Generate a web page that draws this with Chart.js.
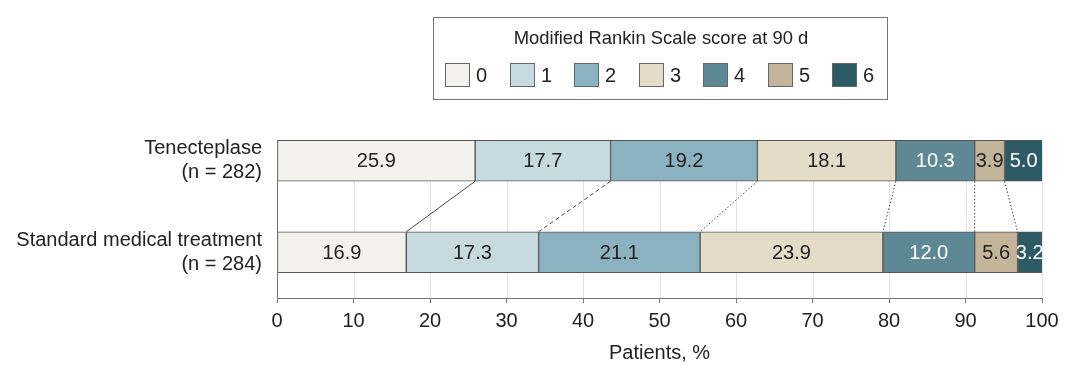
<!DOCTYPE html>
<html>
<head>
<meta charset="utf-8">
<script src="https://cdn.jsdelivr.net/npm/chart.js@4.4.1/dist/chart.umd.min.js"></script>
<style>
  html, body { margin: 0; padding: 0; background: #ffffff; }
  #wrap { width: 1080px; height: 376px; position: relative; }
</style>
</head>
<body>
<div id="wrap"><canvas id="c" width="1080" height="376"></canvas></div>
<script>
// ---- Data ----
const groupNames = ['Tenecteplase', 'Standard medical treatment'];
const groupNs = ['(n = 282)', '(n = 284)'];
const scores = ['0', '1', '2', '3', '4', '5', '6'];
const tenecteplase = [25.9, 17.7, 19.2, 18.1, 10.3, 3.9, 5.0];
const standardCare = [16.9, 17.3, 21.1, 23.9, 12.0, 5.6, 3.2];
const xTickValues = [0, 10, 20, 30, 40, 50, 60, 70, 80, 90, 100];
const legendTitle = 'Modified Rankin Scale score at 90 d';
const xTitle = 'Patients, %';

// ---- Styles ----
const fillColors = ['#f3f2ec', '#c7dae0', '#8ab2c0', '#e5dcc8', '#5f8895', '#c3b59a', '#2c5b66'];
const labelColors = ['#222222', '#222222', '#222222', '#222222', '#ffffff', '#222222', '#ffffff'];
const connectorDash = [[], [4, 3], [1.5, 2], [1.5, 2], [1.5, 2], [1.5, 2]];
const FONT = '"Liberation Sans", Arial, sans-serif';
const TEXT = '#222222';

const labels = groupNames.map((n, i) => [n, groupNs[i]]);
const datasets = scores.map((s, i) => ({
  label: s,
  data: [tenecteplase[i], standardCare[i]],
  backgroundColor: fillColors[i],
  borderColor: '#555555',
  borderWidth: 1,
  borderSkipped: false,
  barThickness: 41
}));

function barTopY(chart) {
  const el = chart.getDatasetMeta(0).data[0];
  return el.y - el.height / 2;
}

const gridPlugin = {
  id: 'customGrid',
  beforeDatasetsDraw(chart) {
    const { ctx, chartArea, scales } = chart;
    const top = barTopY(chart);
    ctx.save();
    ctx.strokeStyle = '#e2e2e2';
    ctx.lineWidth = 1;
    scales.x.ticks.forEach(t => {
      const x = Math.round(scales.x.getPixelForValue(t.value)) + 0.5;
      ctx.beginPath();
      ctx.moveTo(x, top);
      ctx.lineTo(x, chartArea.bottom);
      ctx.stroke();
    });
    ctx.restore();
  }
};

const overlayPlugin = {
  id: 'overlay',
  afterDatasetsDraw(chart) {
    const { ctx, chartArea } = chart;
    // connectors
    ctx.save();
    ctx.strokeStyle = '#444444';
    ctx.lineWidth = 1;
    for (let k = 0; k < scores.length - 1; k++) {
      const meta = chart.getDatasetMeta(k);
      const a = meta.data[0], b = meta.data[1];
      ctx.setLineDash(connectorDash[k]);
      ctx.beginPath();
      ctx.moveTo(a.x, a.y + a.height / 2);
      ctx.lineTo(b.x, b.y - b.height / 2);
      ctx.stroke();
    }
    ctx.restore();
    // value labels
    ctx.save();
    ctx.font = '20px ' + FONT;
    ctx.textAlign = 'center';
    ctx.textBaseline = 'middle';
    chart.data.datasets.forEach((ds, i) => {
      const meta = chart.getDatasetMeta(i);
      meta.data.forEach((el, j) => {
        ctx.fillStyle = labelColors[i];
        ctx.fillText(ds.data[j].toFixed(1), (el.x + el.base) / 2, el.y + 1);
      });
    });
    ctx.restore();
    // y axis line
    const top = barTopY(chart);
    ctx.save();
    ctx.strokeStyle = '#777777';
    ctx.lineWidth = 1;
    const x = Math.round(chartArea.left) + 0.5;
    ctx.beginPath();
    ctx.moveTo(x, top);
    ctx.lineTo(x, chartArea.bottom);
    ctx.stroke();
    ctx.restore();
  },
  afterDraw(chart) {
    const { ctx } = chart;
    // legend box
    ctx.save();
    ctx.strokeStyle = '#777777';
    ctx.lineWidth = 1;
    ctx.strokeRect(433.5, 17.5, 454, 82);
    ctx.fillStyle = TEXT;
    ctx.font = '18.4px ' + FONT;
    ctx.textAlign = 'center';
    ctx.textBaseline = 'middle';
    ctx.fillText(legendTitle, 661, 39);
    ctx.font = '20px ' + FONT;
    ctx.textAlign = 'left';
    scores.forEach((s, i) => {
      const sx = 445 + i * 64.5;
      ctx.fillStyle = fillColors[i];
      ctx.fillRect(Math.round(sx) + 0.5, 63.5, 24, 23);
      ctx.strokeStyle = '#666666';
      ctx.strokeRect(Math.round(sx) + 0.5, 63.5, 24, 23);
      ctx.fillStyle = TEXT;
      ctx.fillText(s, Math.round(sx) + 31, 76);
    });
    ctx.restore();
  }
};

new Chart(document.getElementById('c'), {
  type: 'bar',
  data: { labels, datasets },
  options: {
    indexAxis: 'y',
    responsive: false,
    animation: false,
    devicePixelRatio: 1,
    layout: { padding: { top: 115, right: 38, bottom: 0, left: 0 } },
    plugins: { legend: { display: false }, tooltip: { enabled: false } },
    scales: {
      x: {
        stacked: true,
        min: 0,
        max: 100,
        afterBuildTicks(scale) { scale.ticks = xTickValues.map(v => ({ value: v })); },
        afterFit(scale) { scale.height = 78; },
        grid: { drawOnChartArea: false, drawTicks: true, tickLength: 5, tickColor: '#777777' },
        border: { display: true, color: '#777777', width: 1 },
        ticks: { color: TEXT, font: { size: 20, family: FONT }, padding: 6, maxRotation: 0, autoSkip: false },
        title: { display: true, text: xTitle, color: TEXT, font: { size: 20, family: FONT }, padding: { top: 0, bottom: 11 } }
      },
      y: {
        stacked: true,
        afterFit(scale) { scale.width = 277; },
        grid: { display: false, drawTicks: false },
        border: { display: false },
        ticks: { color: TEXT, font: { size: 20, family: FONT, lineHeight: 1.2 }, padding: 15 }
      }
    }
  },
  plugins: [gridPlugin, overlayPlugin]
});
</script>
</body>
</html>
